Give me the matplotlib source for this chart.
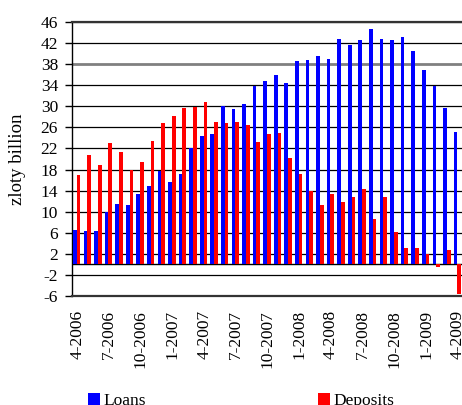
import numpy as np
import matplotlib
matplotlib.use('Agg')
import matplotlib.pyplot as plt
from matplotlib.patches import Patch

# -------- DATA --------
months = ['4-2006', '5-2006', '6-2006', '7-2006', '8-2006', '9-2006', '10-2006', '11-2006', '12-2006',
          '1-2007', '2-2007', '3-2007', '4-2007', '5-2007', '6-2007', '7-2007', '8-2007', '9-2007',
          '10-2007', '11-2007', '12-2007', '1-2008', '2-2008', '3-2008', '4-2008', '5-2008', '6-2008',
          '7-2008', '8-2008', '9-2008', '10-2008', '11-2008', '12-2008', '1-2009', '2-2009', '3-2009',
          '4-2009']
loans = [6.6, 6.3, 6.3, 10.0, 11.4, 11.2, 13.3, 14.8, 17.7,
         15.6, 17.1, 22.1, 24.3, 24.7, 30.0, 29.5, 30.4, 33.9,
         34.8, 35.9, 34.4, 38.6, 38.8, 39.5, 39.0, 42.8, 41.6,
         42.6, 44.7, 42.8, 42.6, 43.2, 40.5, 36.9, 33.9, 29.7,
         25.1]
deposits = [16.9, 20.7, 18.8, 23.1, 21.4, 17.9, 19.5, 23.4, 26.9,
            28.1, 29.7, 29.8, 30.8, 27.0, 26.8, 27.0, 26.4, 23.2,
            24.7, 24.9, 20.2, 17.1, 13.9, 11.2, 13.3, 11.8, 12.7,
            14.4, 8.6, 12.7, 6.1, 3.2, 3.2, 2.0, -0.5, 2.7,
            -5.6]
yticks = [-6, -2, 2, 6, 10, 14, 18, 22, 26, 30, 34, 38, 42, 46]
# -------- DATA. --------

plt.rcParams['font.family'] = ['Liberation Serif', 'DejaVu Serif']
fs = 12.5

fig = plt.figure(figsize=(4.62, 4.05), dpi=100, facecolor='w')
ax = fig.add_axes([72 / 462, 109 / 405, 391.3 / 462, 274 / 405])

x = np.arange(len(months))
w = 0.35
ax.bar(x - 0.235, loans, width=w, color='#0000FF', zorder=3)
ax.bar(x + 0.115, deposits, width=w, color='#FF0000', zorder=3)

# ---- axes styling
ax.set_xlim(-0.5, len(months) - 0.5)
ax.set_ylim(-6, 46)
ax.set_yticks(yticks)
ax.set_yticklabels([str(v) for v in yticks], fontsize=fs)
ax.tick_params(axis='y', direction='out', length=5, width=1, pad=5)

ax.set_xticks(x[::3])
ax.set_xticklabels(months[::3], rotation=90, fontsize=fs, va='top', ha='center')
ax.tick_params(axis='x', length=0, pad=10)

ax.yaxis.grid(True, color='black', linewidth=0.9, zorder=1)
for line, val in zip(ax.get_ygridlines(), yticks):
    if val == 38:
        line.set_color('#808080')
        line.set_linewidth(2)
ax.set_axisbelow(True)
ax.axhline(0, color='black', linewidth=1, zorder=2)

ax.spines['right'].set_visible(False)
ax.spines['left'].set_color('black')
ax.spines['left'].set_linewidth(1)
ax.spines['top'].set_color('#333333')
ax.spines['top'].set_linewidth(1.6)
ax.spines['bottom'].set_color('#333333')
ax.spines['bottom'].set_linewidth(1.6)

ax.set_ylabel('zloty billion', fontsize=13.5)
ax.yaxis.set_label_coords(-0.118, 0.5)

# ---- legend
handles = [Patch(facecolor='#0000FF'), Patch(facecolor='#FF0000')]
fig.legend(handles=handles, labels=['Loans', 'Deposits'], ncol=2, loc='center left',
           bbox_to_anchor=(88 / 462, 1 - 401 / 405), frameon=False, fontsize=fs,
           handlelength=0.7, handleheight=0.7, handletextpad=0.2, columnspacing=9.9,
           borderpad=0, borderaxespad=0)

plt.savefig('out.png', dpi=100)
plt.close()
